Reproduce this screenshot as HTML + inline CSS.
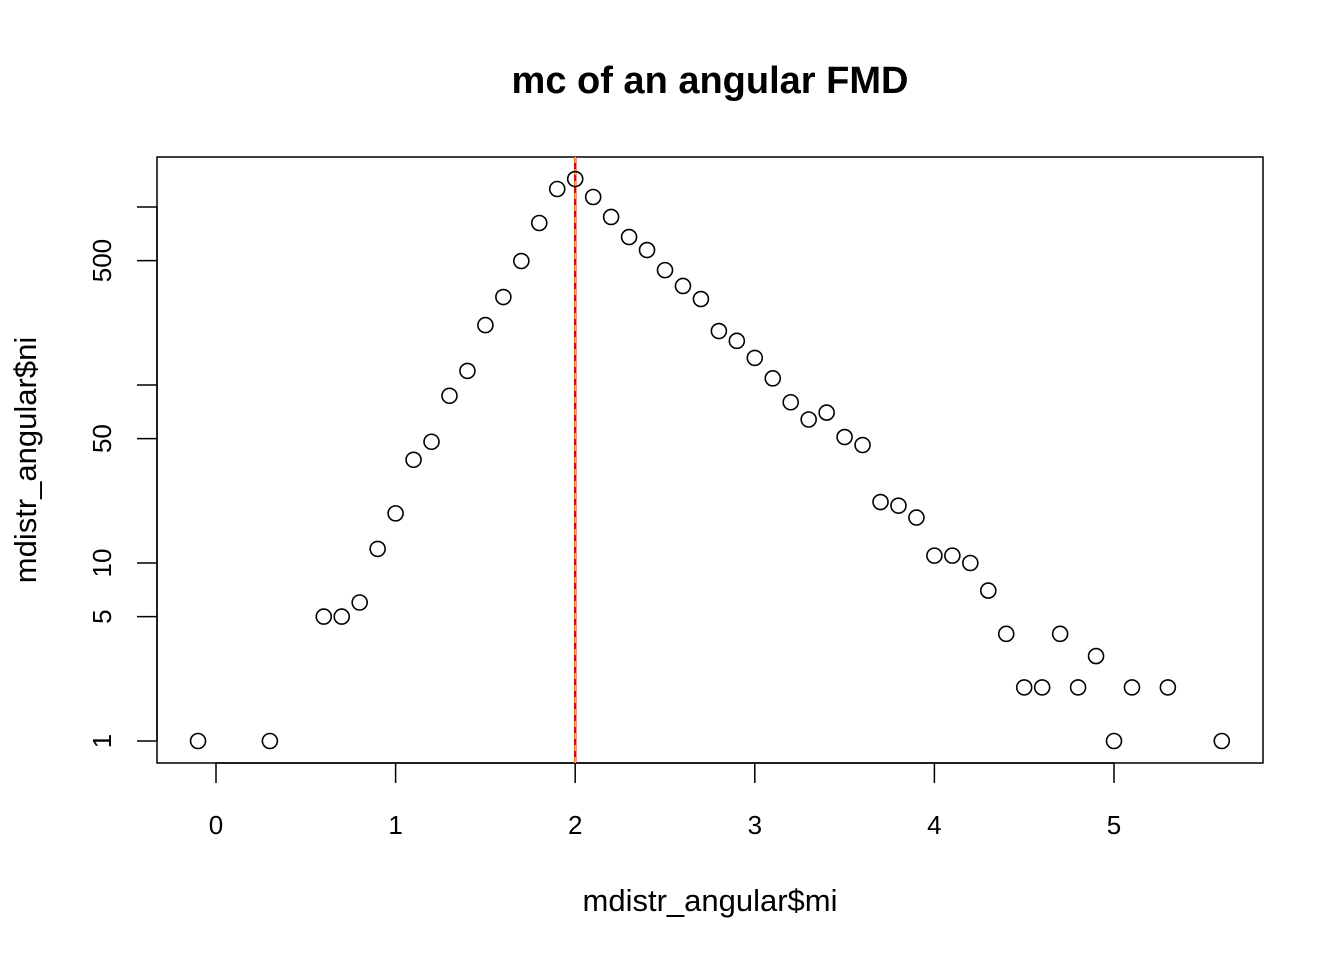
<!DOCTYPE html>
<html><head><meta charset="utf-8"><style>
body{margin:0;background:#fff}
svg text{font-family:"Liberation Sans",Arial,sans-serif}
</style></head><body>
<svg id="c" width="1344" height="960" xmlns="http://www.w3.org/2000/svg">
<text x="710" y="93" font-size="38" font-weight="bold" text-anchor="middle">mc of an angular FMD</text>
<rect x="157" y="157" width="1106" height="606" fill="none" stroke="#000" stroke-width="1.5"/>
<text x="710" y="911" font-size="31" text-anchor="middle">mdistr_angular$mi</text>
<text transform="translate(36,460) rotate(-90)" font-size="31" text-anchor="middle">mdistr_angular$ni</text>
<g id="axes"></g><g id="marks"></g>
</svg>
<script>
const xs=[-0.1,0.3,0.6,0.7,0.8,0.9,1.0,1.1,1.2,1.3,1.4,1.5,1.6,1.7,1.8,1.9,2.0,2.1,2.2,2.3,2.4,2.5,2.6,2.7,2.8,2.9,3.0,3.1,3.2,3.3,3.4,3.5,3.6,3.7,3.8,3.9,4.0,4.1,4.2,4.3,4.4,4.5,4.6,4.7,4.8,4.9,5.0,5.1,5.3,5.6];
const ns=[1,1,5,5,6,12,19,38,48,87,120,217,312,497,813,1262,1436,1138,879,678,573,442,360,304,201,177,142,109,80,64,70,51,46,22,21,18,11,11,10,7,4,2,2,4,2,3,1,2,2,1];
const xTicks=[0,1,2,3,4,5];
const yTicks=[1,5,10,50,100,500,1000];
const yLabels=["1","5","10","50","","500",""];
const mc=[2.0];
const sx=v=>216+v*179.6;
const sy=v=>741-Math.log10(v)*178;
const NS="http://www.w3.org/2000/svg";
function mk(t,a,p){const e=document.createElementNS(NS,t);for(const k in a)e.setAttribute(k,a[k]);p.appendChild(e);return e;}
const ax=document.getElementById('axes'),mk2=document.getElementById('marks');
const xl=mk('line',{x1:sx(xTicks[0]),x2:sx(xTicks[xTicks.length-1]),y1:763,y2:763,stroke:'#000','stroke-width':1.5},ax);


xTicks.forEach(v=>{
 const l=mk('line',{x1:sx(v),x2:sx(v),y1:763,y2:783,stroke:'#000','stroke-width':1.5},ax);
 
 
 const t=mk('text',{x:sx(v),y:834,'font-size':26,'text-anchor':'middle'},ax);t.textContent=v;
 
 
});
const yl=mk('line',{x1:157,x2:157,y1:sy(yTicks[0]),y2:sy(yTicks[yTicks.length-1]),stroke:'#000','stroke-width':1.5},ax);


yTicks.forEach((v,i)=>{
 const l=mk('line',{x1:137,x2:157,y1:sy(v),y2:sy(v),stroke:'#000','stroke-width':1.5},ax);
 
 
 if(yLabels[i]){const t=mk('text',{transform:`translate(111,${sy(v)}) rotate(-90)`,'font-size':26,'text-anchor':'middle'},ax);t.textContent=yLabels[i];
 
 }
});
mc.forEach(v=>{
 const l=mk('line',{x1:sx(v),x2:sx(v),y1:157,y2:763,stroke:'#d01010','stroke-width':2.5},mk2);
 
 
 const d=mk('line',{x1:sx(v),x2:sx(v),y1:157,y2:763,stroke:'#f5c518','stroke-width':1.5,'stroke-dasharray':'6 6'},mk2);
 
 
});
xs.forEach((x,i)=>{
 const c=mk('circle',{cx:sx(x),cy:sy(ns[i]),r:7.5,fill:'none',stroke:'#000','stroke-width':1.6},mk2);
 
 
});
</script>
</body></html>
